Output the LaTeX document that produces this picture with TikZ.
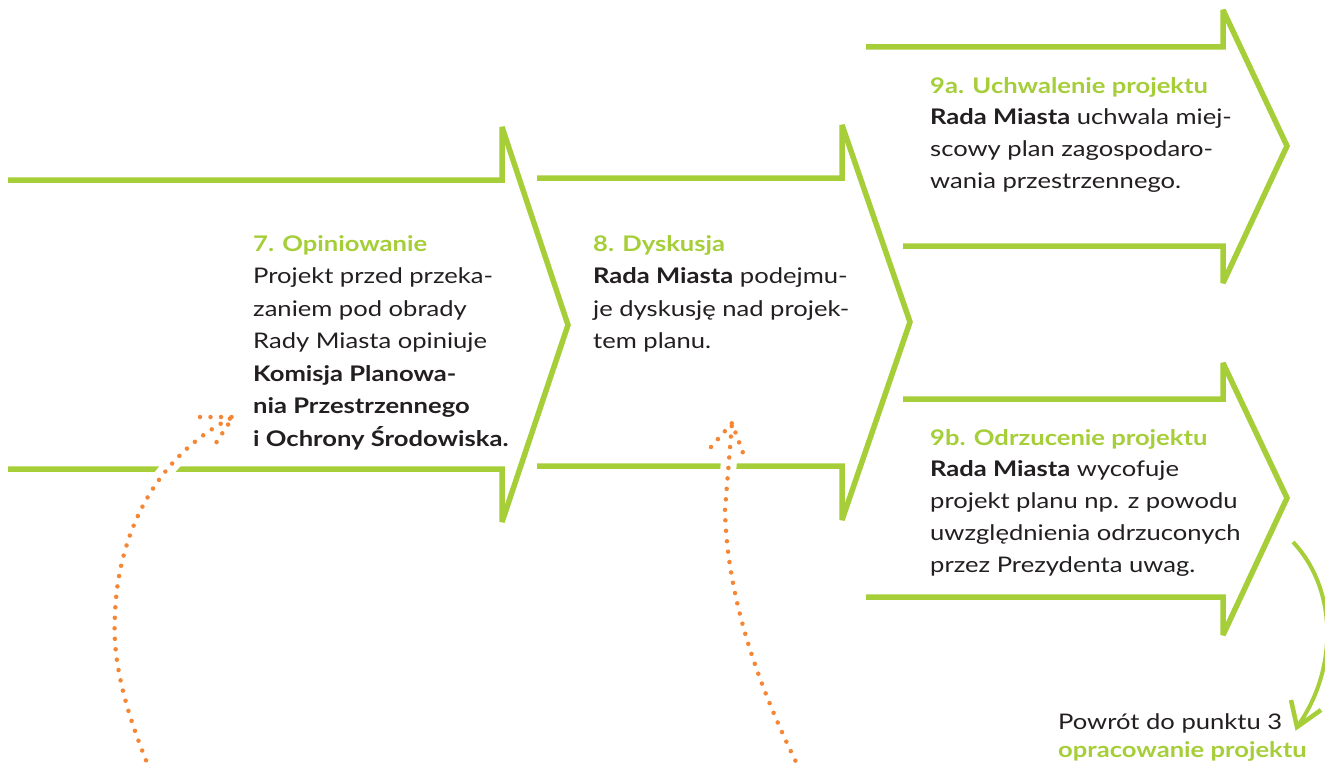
\documentclass[tikz,border=0pt]{standalone}
\usepackage{fontspec}
\setmainfont{Lato}[FakeStretch=1.19]
\usetikzlibrary{arrows.meta}
\definecolor{lgreen}{HTML}{A6CE39}
\definecolor{dorange}{HTML}{F58634}
\definecolor{dtext}{HTML}{231F20}
\begin{document}
\begin{tikzpicture}[x=1pt,y=-1pt,
  chev/.style={draw=lgreen, line width=5.5pt, line join=miter, miter limit=4},
  txt/.style={anchor=north west, align=left, inner sep=0pt, text=dtext, font=\fontsize{21.5}{32.5}\selectfont},
  dots/.style={draw=dorange, line width=4.5pt, line cap=round, dash pattern=on 0pt off 10.5pt},
  halo/.style={draw=white, line width=16pt},
  back/.style={draw=lgreen, line width=4pt}
]
\useasboundingbox[fill=white] (0,0) rectangle (1325,768);
% chevrons
\draw[chev] (8,180) -- (502,180) -- (502,127) -- (568,325) -- (502,522) -- (502,469) -- (8,469);
\draw[chev] (537,178) -- (842,178) -- (842,125) -- (910,322) -- (842,520) -- (842,466) -- (537,466);
\draw[chev] (866,47) -- (1223,47) -- (1223,10) -- (1287,146) -- (1223,283) -- (1223,246) -- (903,246);
\draw[chev] (903,399) -- (1223,399) -- (1223,363) -- (1287,498) -- (1223,635) -- (1223,597) -- (866,597);
% text
\node[txt] (t7) at (253,235) {\textcolor{lgreen}{\textbf{7. Opiniowanie}}\\Projekt przed przeka-\\zaniem pod obrady\\Rady Miasta opiniuje\\\textbf{Komisja Planowa-}\\\textbf{nia Przestrzennego}\\\textbf{i Ochrony Środowiska.}};
\node[txt] (t8) at (593,235) {\textcolor{lgreen}{\textbf{8. Dyskusja}}\\\textbf{Rada Miasta} podejmu-\\je dyskusję nad projek-\\tem planu.};
\node[txt, font=\fontsize{21.5}{31.8}\selectfont] (t9a) at (930,77) {\textcolor{lgreen}{\textbf{9a. Uchwalenie projektu}}\\\textbf{Rada Miasta} uchwala miej-\\scowy plan zagospodaro-\\wania przestrzennego.};
\node[txt, font=\fontsize{21.5}{31.8}\selectfont] (t9b) at (930,429) {\textcolor{lgreen}{\textbf{9b. Odrzucenie projektu}}\\\textbf{Rada Miasta} wycofuje\\projekt planu np. z powodu\\uwzględnienia odrzuconych\\przez Prezydenta uwag.};
\node[txt, font=\fontsize{21.5}{28}\selectfont] (ret) at (1058,713) {Powrót do punktu 3\\\textcolor{lgreen}{\textbf{opracowanie projektu}}};
% green return arrow
\coordinate (rs) at (1293,542);
\coordinate (re) at (1297,727);
\draw[back] (rs) .. controls (1338,590) and (1338,670) .. (re);
\draw[back, line width=4.5pt] (1291,700) -- (re) -- (1321,710);
% orange dotted arrows
\coordinate (l0) at (150,770);
\coordinate (l1) at (115,615);
\coordinate (lt) at (233,417);
\coordinate (r0) at (800,770);
\coordinate (r1) at (725,510);
\coordinate (rt) at (732,423);
\draw[halo] (l0) .. controls (125,710) and (112,660) .. (l1) .. controls (117,545) and (148,460) .. (lt);
\draw[halo] (r0) .. controls (760,690) and (727,600) .. (r1) -- (rt);
\draw[dots] (l0) .. controls (125,710) and (112,660) .. (l1) .. controls (117,545) and (148,460) .. (lt);
\draw[dots] (200,417) -- (lt) -- (214,446);
\draw[dots] (r0) .. controls (760,690) and (727,600) .. (r1) -- (rt);
\draw[dots] (711,447) -- (rt) -- (743,453);
\end{tikzpicture}
\end{document}
